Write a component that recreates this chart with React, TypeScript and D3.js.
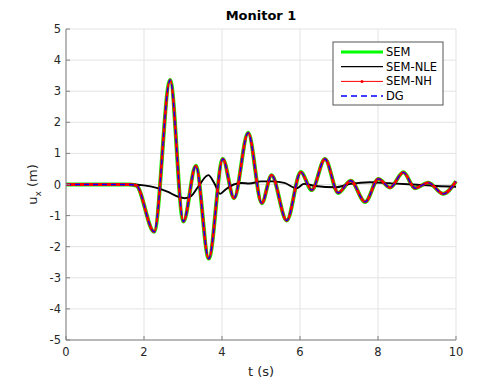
import React from 'react';
import * as d3 from 'd3';

// Monitor 1 - displacement time histories
const xTicks = [0, 2, 4, 6, 8, 10];
const yTicks = [-5, -4, -3, -2, -1, 0, 1, 2, 3, 4, 5];

// SEM / SEM-NH / DG overlap: key points (t, ux)
const semT = [0, 1.6, 1.8, 2.26, 2.67, 3.01, 3.33, 3.66, 4.02, 4.31, 4.67, 5.02, 5.27, 5.66, 6.02, 6.3, 6.64, 6.98, 7.3, 7.67, 8.01, 8.31, 8.65, 8.95, 9.29, 9.67, 10];
const semU = [0, 0, -0.03, -1.52, 3.36, -1.19, 0.6, -2.38, 0.82, -0.44, 1.66, -0.6, 0.3, -1.16, 0.4, -0.18, 0.82, -0.27, 0.12, -0.56, 0.18, -0.1, 0.39, -0.12, 0.06, -0.3, 0.1];

// SEM-NLE
const nleT = [0, 1.7, 2.0, 2.3, 2.6, 2.85, 3.05, 3.2, 3.4, 3.65, 3.8, 3.95, 4.1, 4.3, 4.5, 4.7, 5.0, 5.3, 5.6, 5.92, 6.1, 6.4, 6.9, 7.3, 7.8, 8.3, 8.9, 9.5, 10];
const nleU = [0, 0, -0.03, -0.1, -0.23, -0.38, -0.44, -0.38, -0.05, 0.3, 0.05, -0.3, -0.15, 0, 0.05, 0.03, 0.1, 0.1, 0.05, -0.12, 0.02, -0.05, -0.09, 0.02, 0.07, 0.04, 0, -0.05, -0.07];

const W = 504;
const H = 383;
const m = { left: 66, right: 48, top: 29, bottom: 43 };
const font = 'DejaVu Sans, sans-serif';

export default function App() {
  const x = d3.scaleLinear().domain([0, 10]).range([m.left, W - m.right]);
  const y = d3.scaleLinear().domain([-5, 5]).range([H - m.bottom, m.top]);

  const line = d3.line<number>()
    .x((_, i) => x(semT[i]))
    .y(d => y(d))
    .curve(d3.curveMonotoneX);
  const nleLine = d3.line<number>()
    .x((_, i) => x(nleT[i]))
    .y(d => y(d))
    .curve(d3.curveMonotoneX);
  const semPath = line(semU) || '';
  const nlePath = nleLine(nleU) || '';

  const axisColor = '#808080';
  const textColor = '#262626';
  const gridColor = '#e3e3e3';

  const legendX = 333;
  const legendY = 42;
  const legendItems = [
    { label: 'SEM', color: '#00ff00', width: 3, dash: '' },
    { label: 'SEM-NLE', color: '#000000', width: 1.2, dash: '' },
    { label: 'SEM-NH', color: '#ff0000', width: 1, dash: '', marker: true },
    { label: 'DG', color: '#0000ff', width: 1.5, dash: '6,4' },
  ];

  return (
    <svg width={W} height={H} style={{ position: 'absolute', left: 0, top: 0, background: '#fff' }} fontFamily={font}>
      {/* grid */}
      {xTicks.map(t => (
        <line key={'gx' + t} x1={x(t)} x2={x(t)} y1={y(-5)} y2={y(5)} stroke={gridColor} strokeWidth={1} />
      ))}
      {yTicks.map(t => (
        <line key={'gy' + t} x1={x(0)} x2={x(10)} y1={y(t)} y2={y(t)} stroke={gridColor} strokeWidth={1} />
      ))}

      {/* series */}
      <path d={semPath} fill="none" stroke="#00ff00" strokeWidth={4} />
      <path d={nlePath} fill="none" stroke="#000000" strokeWidth={1.9} />
      <path d={semPath} fill="none" stroke="#ff0000" strokeWidth={2.8} />
      <path d={semPath} fill="none" stroke="#0000ff" strokeWidth={1.3} strokeDasharray="5,4" />

      {/* axes */}
      <line x1={x(0)} x2={x(10)} y1={y(-5)} y2={y(-5)} stroke={axisColor} strokeWidth={1} />
      <line x1={x(0)} x2={x(0)} y1={y(-5)} y2={y(5)} stroke={axisColor} strokeWidth={1} />
      {xTicks.map(t => (
        <g key={'xt' + t}>
          <line x1={x(t)} x2={x(t)} y1={y(-5)} y2={y(-5) - 4} stroke={axisColor} />
          <text x={x(t)} y={y(-5) + 16} textAnchor="middle" fontSize={11.5} fill={textColor}>{t}</text>
        </g>
      ))}
      {yTicks.map(t => (
        <g key={'yt' + t}>
          <line x1={x(0)} x2={x(0) + 4} y1={y(t)} y2={y(t)} stroke={axisColor} />
          <text x={x(0) - 5} y={y(t) + 4} textAnchor="end" fontSize={11.5} fill={textColor}>{t}</text>
        </g>
      ))}

      {/* labels */}
      <text x={(x(0) + x(10)) / 2} y={20} textAnchor="middle" fontSize={13} fontWeight="bold" fill="#000">Monitor 1</text>
      <text x={(x(0) + x(10)) / 2} y={376} textAnchor="middle" fontSize={13} fill={textColor}>t (s)</text>
      <text transform={`translate(37,${y(0)}) rotate(-90)`} textAnchor="middle" fontSize={13} fill={textColor}>
        u<tspan fontSize={9} dy={4}>x</tspan><tspan dy={-4}> (m)</tspan>
      </text>

      {/* legend */}
      <rect x={legendX} y={legendY} width={110} height={63} fill="#fff" stroke="#555" strokeWidth={1} />
      {legendItems.map((it, i) => {
        const ly = legendY + 10 + i * 14.7;
        return (
          <g key={it.label}>
            <line x1={legendX + 8} x2={legendX + 50} y1={ly} y2={ly} stroke={it.color} strokeWidth={it.width} strokeDasharray={it.dash} />
            {it.marker && <circle cx={legendX + 29} cy={ly} r={1.5} fill={it.color} />}
            <text x={legendX + 53} y={ly + 4} fontSize={11.5} fill="#000">{it.label}</text>
          </g>
        );
      })}
    </svg>
  );
}
